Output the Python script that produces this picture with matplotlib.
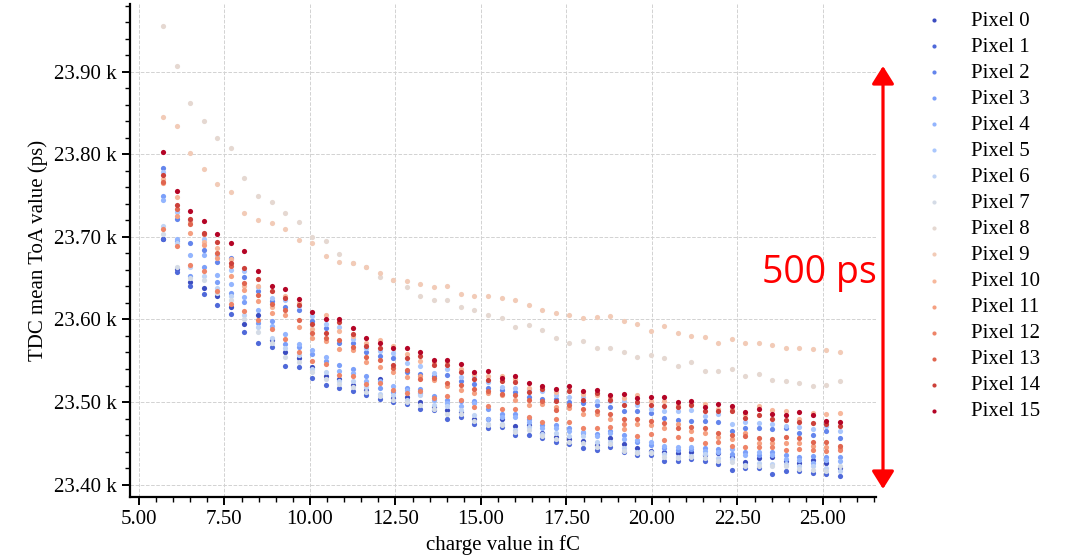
import numpy as np
import matplotlib
matplotlib.use('Agg')
import matplotlib.pyplot as plt
from matplotlib.ticker import EngFormatter, MultipleLocator
from matplotlib.patches import FancyArrowPatch

# charge injected (fC)
charge = [5.71, 6.11, 6.50, 6.90, 7.29, 7.69, 8.08, 8.48, 8.88, 9.27,
          9.67, 10.06, 10.46, 10.86, 11.25, 11.65, 12.04, 12.44, 12.83, 13.23,
          13.63, 14.02, 14.42, 14.81, 15.21, 15.61, 16.00, 16.40, 16.79, 17.19,
          17.58, 17.98, 18.38, 18.77, 19.17, 19.56, 19.96, 20.35, 20.75, 21.15,
          21.54, 21.94, 22.33, 22.73, 23.13, 23.52, 23.92, 24.31, 24.71, 25.10,
          25.50]

# TDC mean ToA per pixel (ps)
pixel_0 = [23698, 23661, 23645, 23638, 23628, 23615, 23595, 23605, 23575, 23560,
           23553, 23542, 23532, 23528, 23521, 23515, 23528, 23505, 23506, 23500,
           23494, 23490, 23488, 23480, 23479, 23479, 23471, 23472, 23463, 23458,
           23455, 23453, 23448, 23456, 23449, 23444, 23441, 23440, 23438, 23439,
           23436, 23438, 23433, 23427, 23432, 23433, 23428, 23426, 23430, 23426,
           23420]
pixel_1 = [23697, 23658, 23640, 23631, 23617, 23607, 23585, 23572, 23567, 23544,
           23542, 23529, 23521, 23517, 23513, 23508, 23504, 23500, 23498, 23491,
           23490, 23480, 23482, 23473, 23469, 23470, 23460, 23460, 23456, 23451,
           23449, 23444, 23442, 23445, 23439, 23436, 23436, 23429, 23428, 23431,
           23428, 23425, 23418, 23420, 23420, 23413, 23417, 23416, 23414, 23413,
           23411]
pixel_2 = [23783, 23722, 23693, 23684, 23670, 23675, 23652, 23634, 23622, 23615,
           23611, 23598, 23590, 23572, 23571, 23561, 23556, 23553, 23536, 23534,
           23531, 23533, 23526, 23522, 23517, 23514, 23512, 23506, 23504, 23504,
           23500, 23499, 23496, 23494, 23489, 23489, 23487, 23481, 23478, 23477,
           23477, 23476, 23465, 23469, 23469, 23467, 23468, 23463, 23460, 23465,
           23457]
pixel_3 = [23750, 23695, 23653, 23664, 23645, 23632, 23621, 23596, 23598, 23570,
           23567, 23558, 23550, 23545, 23540, 23531, 23517, 23512, 23517, 23516,
           23507, 23502, 23501, 23501, 23492, 23486, 23485, 23480, 23472, 23472,
           23469, 23462, 23461, 23465, 23460, 23451, 23448, 23444, 23442, 23443,
           23444, 23443, 23437, 23440, 23436, 23440, 23436, 23434, 23435, 23434,
           23434]
pixel_4 = [23745, 23697, 23678, 23678, 23654, 23643, 23627, 23612, 23592, 23582,
           23570, 23563, 23555, 23538, 23535, 23526, 23526, 23519, 23514, 23511,
           23502, 23499, 23495, 23499, 23480, 23482, 23482, 23476, 23468, 23469,
           23465, 23464, 23459, 23463, 23455, 23454, 23452, 23447, 23446, 23446,
           23441, 23440, 23443, 23436, 23440, 23436, 23431, 23430, 23426, 23430,
           23429]
pixel_5 = [23778, 23730, 23720, 23698, 23678, 23660, 23659, 23639, 23626, 23623,
           23616, 23604, 23594, 23591, 23576, 23565, 23562, 23559, 23547, 23544,
           23535, 23540, 23530, 23531, 23524, 23518, 23517, 23516, 23513, 23508,
           23506, 23506, 23501, 23501, 23501, 23496, 23492, 23489, 23489, 23490,
           23483, 23486, 23474, 23476, 23475, 23473, 23471, 23470, 23467, 23471,
           23465]
pixel_6 = [23713, 23693, 23664, 23653, 23638, 23629, 23605, 23591, 23577, 23565,
           23557, 23540, 23536, 23526, 23525, 23518, 23510, 23508, 23503, 23509,
           23496, 23495, 23490, 23484, 23474, 23473, 23466, 23470, 23461, 23462,
           23459, 23459, 23452, 23451, 23444, 23440, 23439, 23437, 23434, 23435,
           23437, 23432, 23431, 23424, 23426, 23425, 23425, 23423, 23422, 23420,
           23416]
pixel_7 = [23703, 23663, 23650, 23648, 23632, 23624, 23600, 23585, 23571, 23555,
           23549, 23536, 23528, 23522, 23518, 23512, 23507, 23503, 23500, 23496,
           23492, 23486, 23485, 23477, 23472, 23472, 23464, 23466, 23459, 23455,
           23452, 23450, 23446, 23449, 23441, 23438, 23438, 23434, 23432, 23433,
           23432, 23428, 23427, 23422, 23423, 23422, 23422, 23419, 23418, 23417,
           23422]
pixel_8 = [23955, 23907, 23862, 23840, 23820, 23808, 23771, 23749, 23742, 23729,
           23718, 23700, 23695, 23679, 23668, 23664, 23652, 23648, 23639, 23628,
           23624, 23623, 23615, 23612, 23605, 23602, 23591, 23593, 23587, 23578,
           23572, 23574, 23566, 23565, 23561, 23555, 23557, 23553, 23544, 23549,
           23537, 23538, 23540, 23532, 23534, 23527, 23525, 23523, 23520, 23521,
           23525]
pixel_9 = [23845, 23834, 23801, 23782, 23764, 23754, 23729, 23720, 23717, 23709,
           23696, 23692, 23677, 23670, 23668, 23664, 23656, 23648, 23647, 23643,
           23639, 23641, 23631, 23628, 23629, 23626, 23623, 23618, 23611, 23608,
           23605, 23602, 23603, 23604, 23598, 23595, 23586, 23592, 23583, 23580,
           23579, 23571, 23576, 23572, 23571, 23569, 23566, 23566, 23564, 23563,
           23560]
pixel_10 = [23770, 23748, 23718, 23694, 23687, 23673, 23641, 23641, 23615, 23629,
            23620, 23588, 23605, 23586, 23580, 23572, 23575, 23568, 23558, 23550,
            23548, 23548, 23540, 23534, 23532, 23531, 23528, 23517, 23518, 23512,
            23515, 23510, 23508, 23506, 23505, 23509, 23501, 23501, 23497, 23498,
            23498, 23492, 23492, 23485, 23495, 23490, 23489, 23480, 23487, 23486,
            23487]
pixel_11 = [23765, 23725, 23705, 23690, 23675, 23653, 23636, 23622, 23608, 23605,
            23591, 23578, 23574, 23564, 23563, 23548, 23543, 23536, 23530, 23531,
            23527, 23520, 23515, 23511, 23511, 23508, 23503, 23496, 23498, 23494,
            23493, 23486, 23485, 23480, 23467, 23474, 23472, 23468, 23473, 23465,
            23462, 23458, 23455, 23463, 23450, 23450, 23450, 23450, 23447, 23446,
            23444]
pixel_12 = [23710, 23689, 23666, 23659, 23634, 23619, 23610, 23599, 23588, 23576,
            23561, 23550, 23546, 23533, 23531, 23522, 23523, 23515, 23511, 23513,
            23505, 23507, 23503, 23494, 23495, 23492, 23491, 23482, 23476, 23479,
            23476, 23469, 23469, 23470, 23473, 23459, 23461, 23454, 23458, 23455,
            23450, 23452, 23447, 23446, 23445, 23446, 23442, 23443, 23442, 23441,
            23442]
pixel_13 = [23767, 23734, 23715, 23703, 23681, 23665, 23644, 23630, 23619, 23612,
            23599, 23584, 23578, 23575, 23567, 23555, 23551, 23541, 23539, 23528,
            23529, 23523, 23521, 23516, 23513, 23510, 23509, 23503, 23501, 23490,
            23496, 23491, 23489, 23485, 23480, 23480, 23477, 23475, 23468, 23470,
            23469, 23463, 23460, 23459, 23457, 23455, 23458, 23457, 23451, 23451,
            23447]
pixel_14 = [23775, 23739, 23722, 23705, 23694, 23668, 23662, 23649, 23634, 23626,
            23618, 23594, 23583, 23597, 23582, 23568, 23565, 23545, 23553, 23556,
            23545, 23545, 23536, 23528, 23527, 23525, 23524, 23512, 23516, 23501,
            23513, 23503, 23511, 23503, 23497, 23500, 23497, 23495, 23494, 23496,
            23489, 23489, 23489, 23481, 23484, 23479, 23478, 23476, 23475, 23474,
            23471]
pixel_15 = [23803, 23756, 23731, 23719, 23704, 23693, 23683, 23659, 23641, 23637,
            23625, 23609, 23601, 23600, 23590, 23577, 23571, 23565, 23565, 23560,
            23551, 23551, 23546, 23536, 23537, 23529, 23531, 23523, 23520, 23516,
            23519, 23513, 23514, 23508, 23510, 23505, 23506, 23506, 23500, 23501,
            23494, 23498, 23495, 23488, 23492, 23486, 23484, 23488, 23484, 23477,
            23476]

toa = [pixel_0, pixel_1, pixel_2, pixel_3, pixel_4, pixel_5, pixel_6, pixel_7,
       pixel_8, pixel_9, pixel_10, pixel_11, pixel_12, pixel_13, pixel_14, pixel_15]

plt.rcParams['font.family'] = ['Liberation Serif', 'DejaVu Serif']
plt.rcParams['font.size'] = 15

W, H = 1069, 556
fig = plt.figure(figsize=(W / 100, H / 100), dpi=100)
ax = fig.add_axes([130 / W, 1 - 497 / H, (876 - 130) / W, (497 - 4) / H])

cmap = plt.get_cmap('coolwarm')
n = len(toa)
for i, vals in enumerate(toa):
    ax.scatter(charge, vals, s=14, color=cmap(i / (n - 1)), linewidths=0,
               label='Pixel %d' % i, zorder=3)

ax.set_xlim(4.74, 26.55)
ax.set_ylim(23385, 23982)
ax.xaxis.set_major_locator(MultipleLocator(2.5))
ax.xaxis.set_minor_locator(MultipleLocator(0.5))
ax.yaxis.set_major_locator(MultipleLocator(100))
ax.yaxis.set_minor_locator(MultipleLocator(20))
ax.xaxis.set_major_formatter(EngFormatter(places=2))
ax.yaxis.set_major_formatter(EngFormatter(places=2))

ax.grid(True, which='major', ls='--', lw=0.7, color='#d2d2d2')
ax.set_axisbelow(True)
for s in ['top', 'right']:
    ax.spines[s].set_visible(False)
for s in ['left', 'bottom']:
    ax.spines[s].set_linewidth(1.6)
ax.tick_params(which='major', length=6, width=1.4, direction='out')
ax.tick_params(which='minor', length=3.5, width=1.0, direction='out')

ax.set_xlabel('charge value in fC')
ax.set_ylabel('TDC mean ToA value (ps)')

fig.legend(*ax.get_legend_handles_labels(), loc='upper left',
           bbox_to_anchor=(913 / W, 1 - 11 / H), frameon=False, borderpad=0,
           borderaxespad=0, handletextpad=0.8, labelspacing=0.31,
           scatterpoints=1, markerscale=0.8)

# 500 ps span marker
arrow = FancyArrowPatch((883 / W, 1 - 489 / H), (883 / W, 1 - 66 / H),
                        transform=fig.transFigure,
                        arrowstyle='<|-|>,head_length=0.4,head_width=0.25',
                        mutation_scale=27, lw=2.3, color='red',
                        shrinkA=0, shrinkB=0)
fig.add_artist(arrow)
fig.text(819 / W, 1 - 283 / H, '500 ps', color='red', fontsize=27,
         family=['Open Sans', 'DejaVu Sans'], ha='center', va='baseline')

fig.savefig('out.png', dpi=100)
